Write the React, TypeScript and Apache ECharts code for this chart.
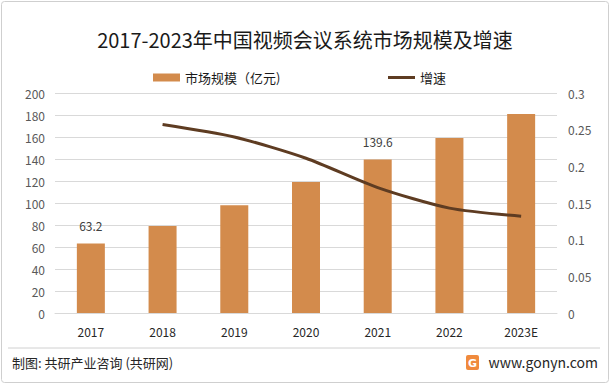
import React, { useEffect, useRef } from "react";
import * as echarts from "echarts";

const categories = ["2017", "2018", "2019", "2020", "2021", "2022", "2023E"];
const marketSize = [63.2, 79, 98, 119, 139.6, 159, 181];
const growth = [null, 0.257, 0.24, 0.211, 0.171, 0.143, 0.132];
const labeledIdx = [0, 4];

const FONT = "'Noto Sans CJK SC', 'Noto Sans', sans-serif";

export default function App() {
  const ref = useRef<HTMLDivElement>(null);
  useEffect(() => {
    if (!ref.current) return;
    const chart = echarts.init(ref.current, null, { renderer: "svg" });
    chart.setOption({
      animation: false,
      backgroundColor: "#fff",
      textStyle: { fontFamily: FONT },
      title: {
        text: "2017-2023年中国视频会议系统市场规模及增速",
        left: "center",
        top: 24,
        textStyle: { fontSize: 20, fontWeight: "normal", color: "#1a1a1a", fontFamily: FONT },
      },
      legend: [
        {
          data: [{ name: "市场规模（亿元)", icon: "rect" }],
          left: 148,
          top: 66,
          itemWidth: 27,
          itemHeight: 8,
          itemGap: 4,
          textStyle: { fontSize: 13, color: "#1a1a1a", fontFamily: FONT },
        },
        {
          data: [{ name: "增速", icon: "rect" }],
          left: 383,
          top: 66,
          itemWidth: 27,
          itemHeight: 3,
          textStyle: { fontSize: 13, color: "#1a1a1a", fontFamily: FONT },
        },
      ],
      grid: { left: 55, right: 53, top: 93, bottom: 71, containLabel: false },
      xAxis: {
        type: "category",
        data: categories,
        axisTick: { show: false },
        axisLine: { lineStyle: { color: "#d9d9d9" } },
        axisLabel: { fontSize: 12, color: "#262626", margin: 12, fontFamily: FONT },
      },
      yAxis: [
        {
          type: "value",
          min: 0,
          max: 200,
          interval: 20,
          axisLine: { show: false },
          axisTick: { show: false },
          splitLine: { lineStyle: { color: "#d9d9d9" } },
          axisLabel: { fontSize: 12, color: "#595959", margin: 10, fontFamily: FONT },
        },
        {
          type: "value",
          min: 0,
          max: 0.3,
          interval: 0.05,
          axisLine: { show: false },
          axisTick: { show: false },
          splitLine: { show: false },
          axisLabel: { fontSize: 12, color: "#595959", margin: 11, fontFamily: FONT },
        },
      ],
      series: [
        {
          name: "市场规模（亿元)",
          type: "bar",
          barWidth: 28,
          itemStyle: { color: "#D38B4C" },
          data: marketSize.map((v, i) => ({
            value: v,
            label: {
              show: labeledIdx.includes(i),
              position: "top",
              distance: 12,
              fontSize: 12,
              color: "#404040",
              fontFamily: FONT,
            },
          })),
        },
        {
          name: "增速",
          type: "line",
          yAxisIndex: 1,
          smooth: 0.25,
          symbol: "none",
          lineStyle: { color: "#5E3C22", width: 3 },
          itemStyle: { color: "#5E3C22" },
          data: growth,
        },
      ],
      graphic: [
        {
          type: "rect",
          shape: { x: 1.5, y: 1.5, width: 607, height: 381, r: 3 },
          style: { fill: "none", stroke: "#cfcfcf", lineWidth: 1 },
          silent: true,
        },
        {
          type: "line",
          shape: { x1: 8, y1: 348, x2: 600, y2: 348 },
          style: { stroke: "#d0d0d0", lineWidth: 1 },
        },
        {
          type: "text",
          x: 12,
          y: 362,
          style: {
            text: "制图: 共研产业咨询 (共研网)",
            fontSize: 13,
            fill: "#262626",
            fontFamily: FONT,
            verticalAlign: "middle",
          },
        },
        {
          type: "rect",
          shape: { x: 466, y: 355, width: 13, height: 15, r: 2 },
          style: { fill: "#F08A3C" },
        },
        {
          type: "text",
          x: 472.5,
          y: 363,
          style: {
            text: "G",
            fontSize: 11,
            fontWeight: "bold",
            fill: "#fff",
            align: "center",
            verticalAlign: "middle",
            fontFamily: "DejaVu Sans",
          },
        },
        {
          type: "text",
          x: 598,
          y: 362,
          style: {
            text: "www.gonyn.com",
            fontSize: 14,
            fill: "#262626",
            align: "right",
            verticalAlign: "middle",
            fontFamily: FONT,
          },
        },
      ],
    });
    return () => chart.dispose();
  }, []);
  return (
    <div
      ref={ref}
      style={{ position: "fixed", left: 0, top: 0, width: 610, height: 384 }}
    />
  );
}
